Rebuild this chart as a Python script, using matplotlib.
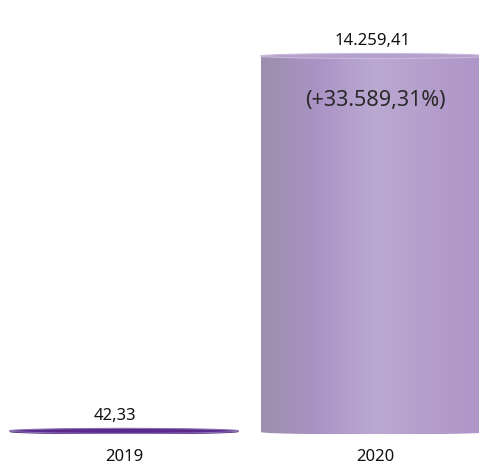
import numpy as np
import matplotlib
matplotlib.use("Agg")
import matplotlib.pyplot as plt
from matplotlib.patches import Ellipse, Polygon
from matplotlib.colors import to_rgb

categories = ["2019", "2020"]
values = [42.33, 14259.41]
change_labels = ["", "(+33.589,31%)"]

def fmt(v):
    s = f"{v:,.2f}"
    return s.replace(",", "X").replace(".", ",").replace("X", ".")

plt.rcParams['font.family'] = ['Noto Sans', 'DejaVu Sans']

W, H = 479, 464
fig = plt.figure(figsize=(W / 100, H / 100), dpi=100)
ax = fig.add_axes([0, 0, 1, 1])
ax.set_axis_off()

px_x = 251.0
xmin = -124.0 / px_x
ax.set_xlim(xmin, xmin + W / px_x)
k = 376.0 / values[1]
base_px = 31.0
ymin = -base_px / k
ax.set_ylim(ymin, ymin + H / k)

bar_w = 229.0 / px_x
ell_h = 5.0 / k
label_dx = [-6.5, -2.0]  # points

body_stops = [
    ["#3e1f6e", "#5b2d8e", "#6a3a9e", "#5b2d8e", "#4a2478"],
    ["#9c8eab", "#ab93c6", "#bba9d2", "#b49dcb", "#ad95c8"],
]
top_colors = ["#5a2a8c", "#b49fcd"]
top_edges = ["#8a70b0", "#c9bada"]

def gradient(stops, n=256):
    cols = np.array([to_rgb(c) for c in stops])
    pos = np.linspace(0, 1, len(stops))
    t = np.linspace(0, 1, n)
    img = np.stack([np.interp(t, pos, cols[:, j]) for j in range(3)], axis=-1)
    return img[np.newaxis, :, :]

for i, (cat, v) in enumerate(zip(categories, values)):
    x0 = i
    left, right = x0 - bar_w / 2, x0 + bar_w / 2
    t = np.linspace(np.pi, 2 * np.pi, 80)
    bottom = np.column_stack([x0 + bar_w / 2 * np.cos(t), ell_h / 2 * np.sin(t)])
    pts = np.vstack([[left, v], bottom, [right, v]])
    poly = Polygon(pts, closed=True, facecolor="none", edgecolor="none")
    ax.add_patch(poly)
    im = ax.imshow(gradient(body_stops[i]), extent=[left, right, -ell_h / 2, v],
                   aspect="auto", interpolation="bilinear", zorder=2)
    im.set_clip_path(poly)
    top = Ellipse((x0, v), bar_w, ell_h, facecolor=top_colors[i],
                  edgecolor=top_edges[i], linewidth=0.8, zorder=3)
    ax.add_patch(top)
    ax.annotate(fmt(v), (x0, v), xytext=(label_dx[i], 11.5), textcoords="offset points",
                ha="center", va="center", fontsize=12, color="#111111", zorder=4)
    if change_labels[i]:
        ax.annotate(change_labels[i], (x0, v), xytext=(0, -31), textcoords="offset points",
                    ha="center", va="center", fontsize=15.5, color="#2a2a2a", zorder=4)
    ax.annotate(cat, (x0, 0), xytext=(0, -17.5), textcoords="offset points",
                ha="center", va="center", fontsize=12, color="#111111", zorder=4)

fig.savefig("out.png", dpi=100)
